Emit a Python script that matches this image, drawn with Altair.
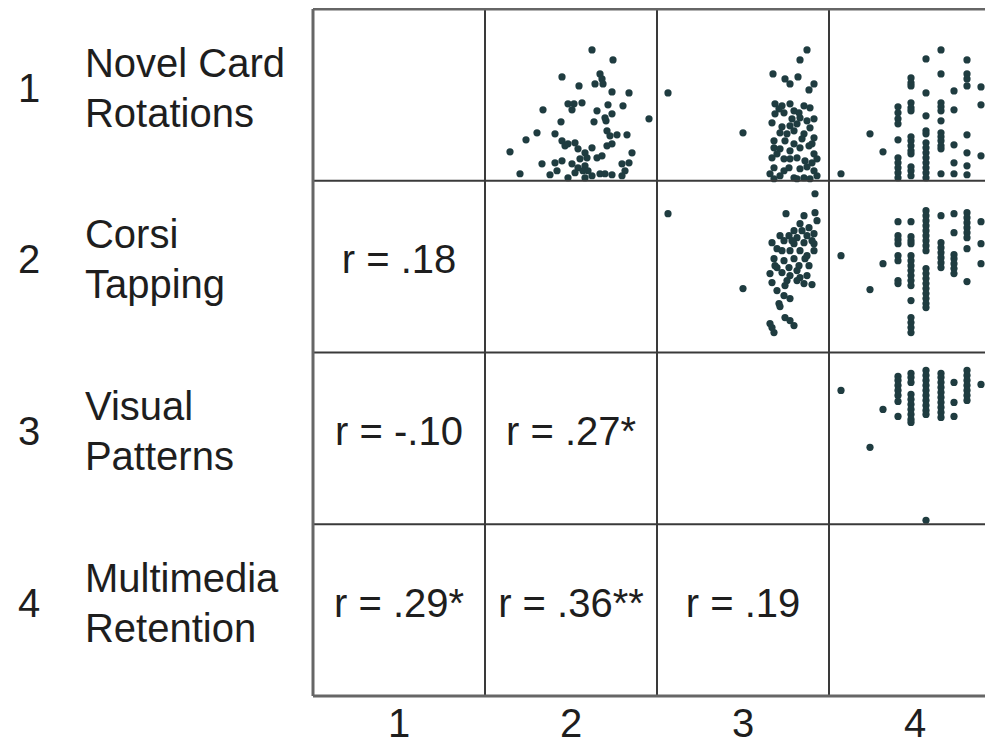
import altair as alt
import pandas as pd

# ---------------- data ----------------
row_numbers = ["1", "2", "3", "4"]
row_names = ["Novel Card\nRotations", "Corsi\nTapping", "Visual\nPatterns", "Multimedia\nRetention"]
col_numbers = ["1", "2", "3", "4"]

# lower triangle correlations (row, col, label)
r_rows = [2, 3, 3, 4, 4, 4]
r_cols = [1, 1, 2, 1, 2, 3]
r_labels = ["r = .18", "r = -.10", "r = .27*", "r = .29*", "r = .36**", "r = .19"]

# scatter panels: coordinates within a panel on a 0-172 scale (x right, y down)
p12_x = [107, 128, 77, 115, 117, 110, 118, 94, 127, 144, 83, 89, 97, 87, 58, 123, 138, 112, 120, 127,
         164, 76, 109, 121, 52, 41, 70, 122, 125, 132, 142, 77, 83, 90, 80, 93, 100, 107, 122, 127,
         25, 147, 112, 117, 95, 102, 57, 70, 77, 72, 87, 93, 100, 90, 98, 103, 137, 144, 140, 35,
         65, 115, 120, 127, 137, 100, 107, 83]
p12_y = [41, 51, 68, 65, 70, 75, 75, 77, 83, 84, 95, 95, 94, 101, 101, 96, 97, 102, 109, 105,
         110, 113, 113, 112, 124, 131, 125, 122, 127, 126, 126, 132, 135, 134, 137, 140, 144, 139, 137, 135,
         143, 144, 149, 147, 150, 149, 155, 154, 152, 162, 155, 159, 157, 164, 162, 162, 155, 154, 162, 165,
         166, 165, 165, 166, 167, 169, 167, 169]

p13_x = [150, 143, 11, 116, 128, 133, 141, 157, 152, 86, 118, 125, 133, 137, 147, 153, 157, 118, 127, 135,
         143, 115, 133, 140, 153, 123, 130, 147, 157, 117, 128, 137, 117, 123, 133, 143, 152, 157, 115, 127,
         140, 148, 155, 117, 132, 143, 157, 113, 123, 137, 147, 160,
         122, 142, 150, 125, 137, 155, 120, 133, 150, 127, 140, 153, 117, 160, 145]
p13_y = [41, 51, 84, 65, 70, 75, 68, 75, 81, 124, 95, 97, 95, 102, 97, 99, 110, 105, 104, 110,
         109, 114, 117, 115, 119, 124, 125, 125, 129, 132, 132, 135, 139, 140, 142, 139, 137, 145, 149, 150,
         149, 152, 154, 159, 159, 160, 162, 165, 167, 169, 169, 167,
         100, 104, 112, 118, 122, 135, 145, 150, 158, 162, 170, 170, 170, 150, 130]

p14_x = [12, 41, 54,
         69, 69, 69, 69, 69, 69, 69, 69, 69, 69,
         82, 82, 82, 82, 82, 82, 82, 82, 82, 82, 82, 82, 82, 82,
         97, 97, 97, 97, 97, 97, 97, 97, 97, 97, 97, 97, 97,
         112, 112, 112, 112, 112, 112, 112, 112, 112, 112, 112, 112,
         125, 125, 125, 125, 125,
         138, 138, 138, 138, 138, 138, 138, 138,
         152, 152, 152, 163]
p14_y = [165, 125, 143,
         98, 104, 110, 115, 131, 149, 154, 159, 164, 169,
         69, 74, 77, 94, 99, 102, 128, 132, 137, 142, 145, 158, 162, 167,
         50, 84, 107, 122, 125, 134, 139, 144, 149, 154, 159, 164, 169,
         41, 65, 94, 98, 102, 112, 124, 128, 132, 137, 140, 165,
         82, 101, 136, 154, 165,
         51, 65, 70, 77, 126, 144, 157, 166,
         78, 96, 147, 97]

p23_x = [11, 158, 129, 86, 147, 158, 160, 143, 152, 137, 123, 132, 140, 150, 157, 115, 127, 137, 147, 157,
         120, 133, 143, 157, 117, 127, 137, 148, 120, 132, 142, 152, 113, 125, 133, 143, 115, 140, 147, 155,
         120, 127, 122, 133, 123, 128, 133, 137, 113, 117, 115,
         150, 125, 140, 118, 130, 155, 135, 145, 128, 150]
p23_y = [33, 13, 33, 108, 35, 32, 40, 43, 47, 50, 55, 55, 57, 55, 53, 62, 60, 63, 62, 63,
         68, 70, 70, 70, 78, 80, 78, 78, 87, 87, 85, 85, 93, 92, 95, 97, 102, 100, 103, 104,
         110, 115, 123, 118, 126, 137, 140, 145, 143, 152, 147,
         75, 70, 90, 85, 100, 60, 60, 50, 105, 95]

p24_x = [12, 41, 54,
         69, 69, 69, 69, 69, 69, 69, 69,
         82, 82, 82, 82, 82, 82, 82, 82, 82, 82, 82, 82, 82, 82, 82, 82,
         97, 97, 97, 97, 97, 97, 97, 97, 97, 97, 97, 97, 97, 97, 97, 97, 97, 97,
         112, 112, 112, 112, 112, 112, 112,
         125, 125, 125, 125, 125, 125, 125,
         138, 138, 138, 138, 138, 138, 138, 138,
         152, 152, 152, 163, 163]
p24_y = [75, 109, 83,
         41, 55, 59, 63, 75, 80, 100, 103,
         41, 56, 60, 63, 75, 80, 85, 90, 95, 100, 105, 120, 137, 142, 147, 152,
         30, 35, 40, 45, 50, 55, 60, 65, 70, 88, 93, 98, 103, 108, 113, 118, 123, 127,
         35, 62, 67, 72, 77, 82, 87,
         33, 52, 74, 78, 83, 88, 93,
         32, 37, 42, 47, 52, 57, 68, 101,
         41, 63, 83, 13, 55]

p34_x = [12, 41, 54,
         69, 69, 69, 69, 69, 69, 69,
         82, 82, 82, 82, 82, 82, 82, 82, 82, 82,
         97, 97, 97, 97, 97, 97, 97, 97, 97, 97, 97,
         112, 112, 112, 112, 112, 112, 112, 112, 112, 112,
         125, 125, 125,
         138, 138, 138, 138, 138, 138, 138,
         152, 163, 163]
p34_y = [38, 95, 57,
         24, 28, 33, 38, 43, 49, 64,
         21, 25, 30, 42, 47, 52, 57, 62, 67, 70,
         18, 23, 28, 33, 38, 43, 48, 53, 58, 62, 168,
         21, 25, 30, 35, 40, 45, 50, 55, 60, 65,
         30, 50, 64,
         18, 23, 28, 33, 38, 43, 48,
         32, 23, 53]

CELL = 172.0
panels = [(1, 2, p12_x, p12_y), (1, 3, p13_x, p13_y), (1, 4, p14_x, p14_y),
          (2, 3, p23_x, p23_y), (2, 4, p24_x, p24_y), (3, 4, p34_x, p34_y)]

pts = []
for r, c, xs_, ys_ in panels:
    for a, b in zip(xs_, ys_):
        pts.append({"x": c - 1 + a / CELL, "y": r - 1 + b / CELL})
pts_df = pd.DataFrame(pts)

r_df = pd.DataFrame({"x": [c - 0.5 for c in r_cols],
                     "y": [r - 0.5 - 0.03 for r in r_rows],
                     "t": r_labels})

row_df = pd.DataFrame({"num": row_numbers, "name": row_names,
                       "y": [i + 0.5 - 0.03 for i in range(4)],
                       "xn": [-1.65] * 4, "xt": [-1.326] * 4})
col_df = pd.DataFrame({"num": col_numbers, "x": [i + 0.5 for i in range(4)], "y": [4.17] * 4})

inner_v = pd.DataFrame({"x": [1, 2, 3], "y": [0] * 3, "y2": [4] * 3})
inner_h = pd.DataFrame({"y": [1, 2, 3], "x": [0] * 3, "x2": [4] * 3})
outer_v = pd.DataFrame({"x": [0], "y": [0], "y2": [4]})
outer_h = pd.DataFrame({"y": [0, 4], "x": [0, 0], "x2": [4, 4]})

PLOT_W = 672
XMAX = PLOT_W / CELL
xs = alt.Scale(domain=[0, XMAX], nice=False, zero=False)
ys = alt.Scale(domain=[0, 4], nice=False, zero=False, reverse=True)
X = lambda f: alt.X(f, type="quantitative", scale=xs, axis=None)
Y = lambda f: alt.Y(f, type="quantitative", scale=ys, axis=None)

FONT = "Liberation Sans"
TXT = "#1e1e1e"

l_inner_v = alt.Chart(inner_v).mark_rule(color="#3a3a3a", strokeWidth=2).encode(x=X("x"), y=Y("y"), y2="y2")
l_inner_h = alt.Chart(inner_h).mark_rule(color="#3a3a3a", strokeWidth=2).encode(y=Y("y"), x=X("x"), x2="x2")
l_outer_v = alt.Chart(outer_v).mark_rule(color="#666666", strokeWidth=3).encode(x=X("x"), y=Y("y"), y2="y2")
l_outer_h = alt.Chart(outer_h).mark_rule(color="#666666", strokeWidth=3).encode(y=Y("y"), x=X("x"), x2="x2")

points = alt.Chart(pts_df).mark_circle(size=52, color="#1f3c40", opacity=1).encode(x=X("x"), y=Y("y"))

rtext = alt.Chart(r_df).mark_text(fontSize=40, font=FONT, color=TXT, align="center", baseline="middle").encode(
    x=X("x"), y=Y("y"), text="t:N")

rownum = alt.Chart(row_df).mark_text(fontSize=40, font=FONT, color=TXT, align="center", baseline="middle").encode(
    x=X("xn"), y=Y("y"), text="num:N")
rowname = alt.Chart(row_df).mark_text(fontSize=40, font=FONT, color=TXT, align="left", baseline="middle",
                                      lineBreak="\n", lineHeight=50, dy=-25).encode(
    x=X("xt"), y=Y("y"), text="name:N")
colnum = alt.Chart(col_df).mark_text(fontSize=40, font=FONT, color=TXT, align="center", baseline="middle").encode(
    x=X("x"), y=Y("y"), text="num:N")

chart = alt.layer(points, l_inner_v, l_inner_h, l_outer_v, l_outer_h, rtext, rownum, rowname, colnum).properties(
    width=PLOT_W, height=687,
    padding={"left": 305, "top": 1, "right": 0, "bottom": 51},
    autosize=alt.AutoSizeParams(type="none"),
).configure_view(stroke=None)

chart.save("out.html", embed_options={"renderer": "svg", "actions": False})
